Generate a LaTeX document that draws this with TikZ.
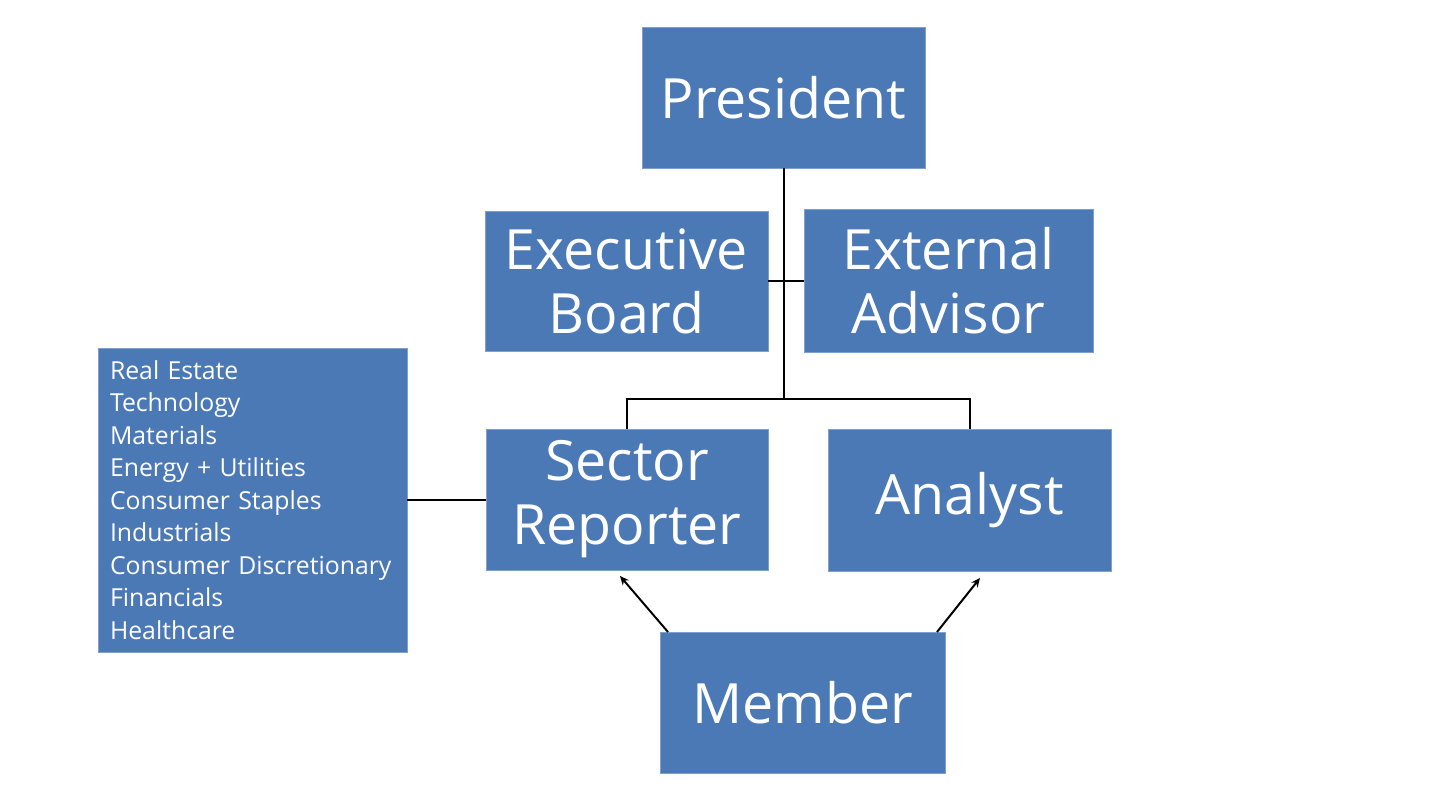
\documentclass[tikz,border=0pt]{standalone}
\usepackage{fontspec}
\setmainfont{Open Sans}
\usetikzlibrary{arrows.meta}
\definecolor{boxblue}{HTML}{4B79B6}
\definecolor{boxedge}{HTML}{7FA0CC}
\begin{document}
\begin{tikzpicture}[x=1pt,y=-1pt,
  bigbox/.style={fill=boxblue,draw=boxedge,line width=0.8pt,text=white,inner sep=0pt,
    font=\fontsize{55.5}{64}\selectfont,align=center},
  conn/.style={line width=2pt,draw=black},
  arr/.style={line width=2pt,draw=black,-{Stealth[length=9pt,width=8pt]}}]
\useasboundingbox (0,0) rectangle (1440,800);
\node[bigbox,minimum width=283pt,minimum height=141pt] (pres) at (783.5,97.5) {President};
\node[bigbox,minimum width=283pt,minimum height=140pt] (exec) at (626.5,281) {Executive\\Board};
\node[bigbox,minimum width=289pt,minimum height=143pt] (ext) at (948.5,280.5) {External\\Advisor};
\node[bigbox,minimum width=282pt,minimum height=141pt] (sect) at (627,499.5) {Sector\\Reporter};
\node[bigbox,minimum width=283pt,minimum height=142pt] (anal) at (969.5,500) {Analyst};
\node[bigbox,minimum width=285pt,minimum height=141pt] (mem) at (802.5,702.5) {Member};
\node[bigbox,minimum width=309pt,minimum height=304pt,text width=285pt,align=left,
  font=\fontsize{24.8}{32.5}\selectfont] (list) at (252.5,500)
  {Real Estate\\Technology\\Materials\\Energy + Utilities\\Consumer Staples\\Industrials\\Consumer Discretionary\\Financials\\Healthcare};
\coordinate (hub) at (pres.south |- 0,399);
\coordinate (mid) at (pres.south |- 0,281);
\draw[conn] (pres.south) -- (hub);
\draw[conn] (exec.east |- mid) -- (ext.west |- mid);
\draw[conn] (hub) -| (sect.north);
\draw[conn] (hub) -| (anal.north);
\draw[conn] (list.east |- sect.west) -- (sect.west);
\coordinate (a1) at (668,632);
\coordinate (a2) at (937,632);
\coordinate (t1) at (620,576);
\coordinate (t2) at (980,578);
\draw[arr] (a1) -- (t1);
\draw[arr] (a2) -- (t2);
\end{tikzpicture}
\end{document}
